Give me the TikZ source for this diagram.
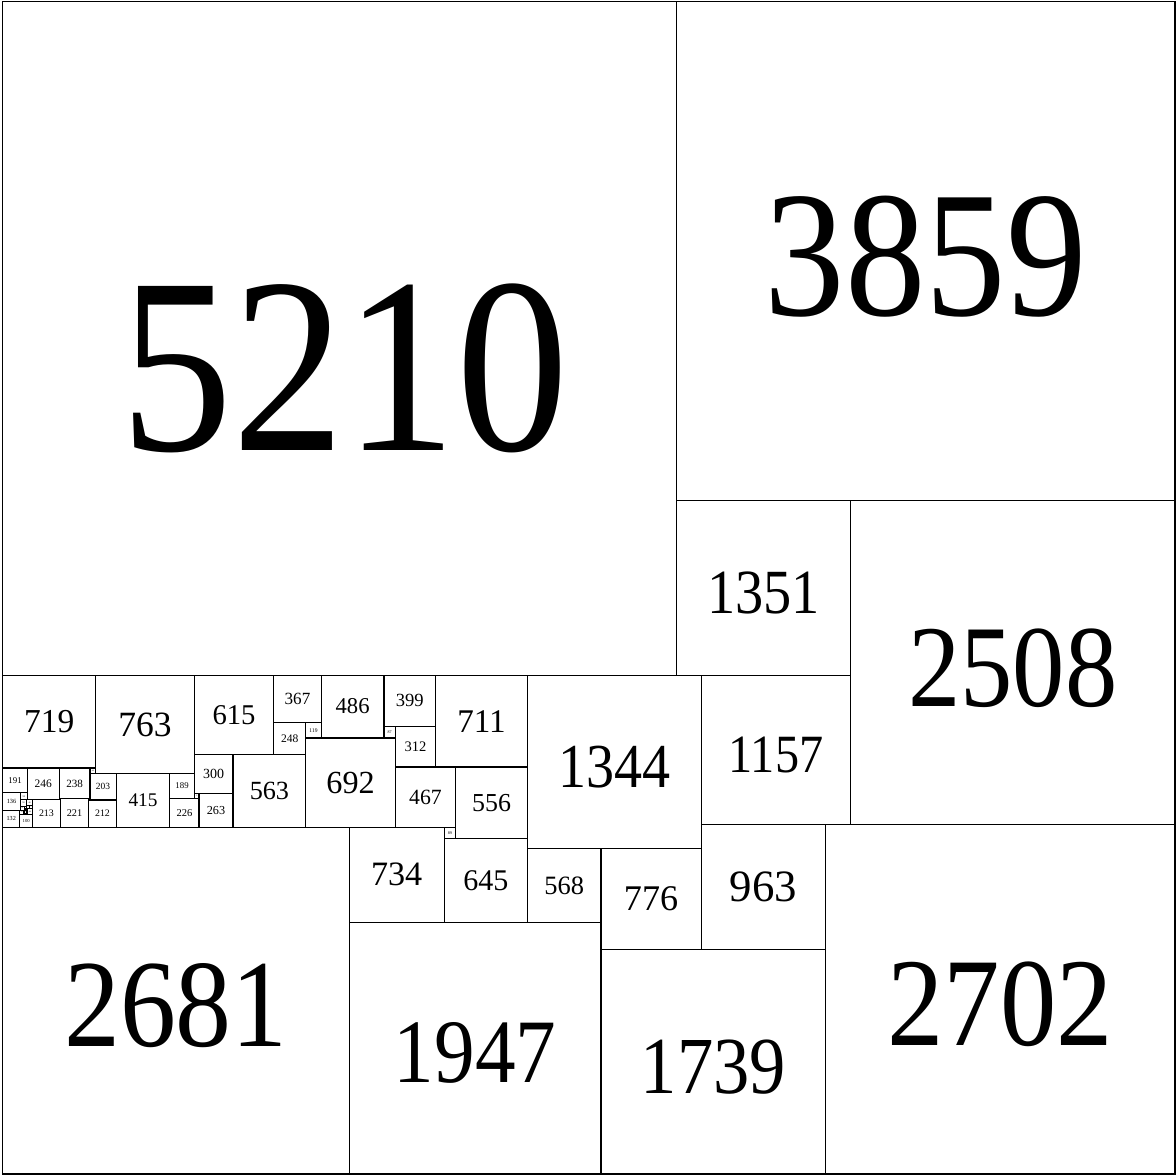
\documentclass[tikz,border=0pt]{standalone}
\usepackage{fontspec}
\setmainfont{Liberation Serif}

\begin{document}
\begin{tikzpicture}[x=0.01cm,y=-0.01cm]
   \tikzstyle{tile}=[draw,line width=2.6pt]
   \tikzstyle{lbl}=[inner sep=0pt,anchor=center]
   \useasboundingbox (-21,-13) rectangle (9077,9077);
   \foreach \x/\y/\s [count=\i] in {
      0/0/5210, 5210/0/3859, 5210/3859/1351, 6561/3859/2508,
      0/5210/719, 719/5210/763, 1482/5210/615, 2097/5210/367,
      2464/5210/486, 2950/5210/399, 3349/5210/711, 4060/5210/1344,
      5404/5210/1157, 6367/6367/2702, 0/6388/2681, 2681/7122/1947,
      4628/7330/1739, 5404/6367/963, 4628/6554/776, 4060/6554/568,
      3415/6477/645, 2681/6388/734, 3504/5921/556, 3415/6388/89,
      3037/5921/467, 3037/5609/312, 2950/5609/87, 2345/5696/692,
      2097/5577/248, 2345/5577/119, 1782/5825/563, 1482/5825/300,
      1519/6125/263, 1293/6162/226, 1293/5973/189, 1482/6125/37,
      878/5973/415, 666/6176/212, 675/5973/203, 675/5929/44,
      437/5929/238, 445/6167/221, 232/6175/213, 437/6167/8,
      666/6167/9, 191/5929/246, 0/5929/191, 0/6120/136,
      0/6256/132, 132/6288/100,
      136/6120/55, 136/6175/50, 186/6175/46, 136/6225/31,
      167/6225/19, 186/6221/23, 209/6221/23, 132/6256/32,
      188/6244/44, 167/6244/12, 179/6244/9, 179/6253/3,
      182/6253/3, 185/6253/3, 164/6256/24, 164/6280/8,
      172/6280/8, 180/6280/8} {
      \pgfmathsetmacro{\fsz}{(\s>5000 ? 0.372 : 0.36)*\s*0.2845}
      \pgfmathsetmacro{\sx}{\s>999 ? 0.896 : 1}
      \pgfmathsetmacro{\dx}{\s>5000 ? 40 : 0}
      \pgfmathsetmacro{\dy}{\s>5000 ? 230 : (\s>999 ? 40 : 0)}
      \draw [tile] (\x,\y) rectangle ++(\s,\s) ;
      \node (sq\i) [lbl,font=\fontsize{\fsz pt}{\fsz pt}\selectfont] at (\x+\s/2+\dx,\y+\s/2+\dy) {\scalebox{\sx}[1]{\s}} ;
   }
\end{tikzpicture}
\end{document}
